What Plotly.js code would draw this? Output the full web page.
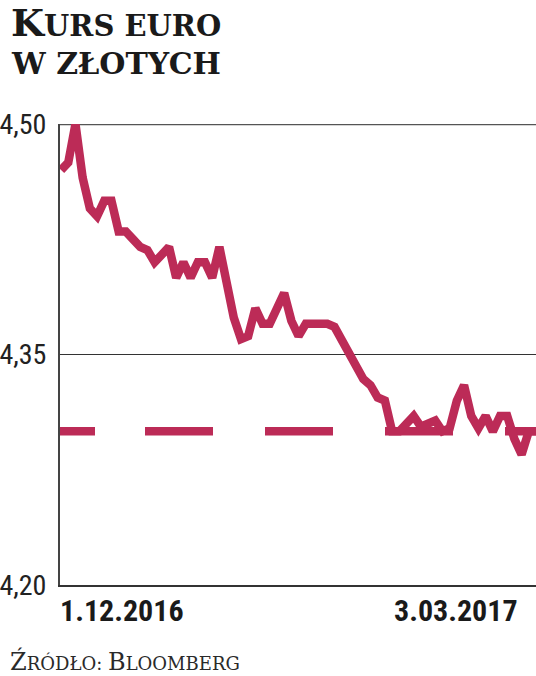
<!DOCTYPE html>
<html>
<head>
<meta charset="utf-8">
<script src="https://cdn.plot.ly/plotly-3.0.1.min.js"></script>
<style>html,body{margin:0;padding:0;background:#fff;}#chart{width:536px;height:676px;}</style>
</head>
<body>
<div id="chart"></div>
<script>
// EUR/PLN daily fixing, 1.12.2016 – 3.03.2017
const dayIndex = [];
const rate = [4.47,4.475,4.50,4.465,4.445,4.44,4.45,4.45,4.43,4.43,4.425,4.42,4.418,4.41,4.415,4.42,4.40,4.41,4.40,4.41,4.41,4.40,4.42,4.398,4.374,4.36,4.362,4.38,4.37,4.37,4.38,4.39,4.372,4.362,4.37,4.37,4.37,4.37,4.368,4.36,4.352,4.343,4.334,4.33,4.322,4.32,4.30,4.30,4.305,4.31,4.303,4.305,4.307,4.30,4.302,4.32,4.33,4.31,4.302,4.31,4.30,4.31,4.31,4.295,4.285,4.30,4.30];
for (let i = 0; i < rate.length; i++) dayIndex.push(i);
const refLevel = [4.30, 4.30];
const refX = [-0.15, rate.length - 1];
const yTickVals = [4.20, 4.35, 4.50];
const yTickText = ['4,20', '4,35', '4,50'];
const xLabels = ['1.12.2016', '3.03.2017'];

const W = 536, H = 676, L = 60, R = 0, T = 124, B = 91;
const pw = W - L - R, ph = H - T - B;
const px = x => (x - L) / pw;
const py = y => (H - B - y) / ph;

const red = '#bc2b57';
const condFont = 'Roboto Condensed, DejaVu Sans Condensed, Liberation Sans Narrow, Roboto, sans-serif';
const slab = 'DejaVu Serif, Liberation Serif, serif';

const traces = [
  {x: refX, y: refLevel, mode: 'lines', cliponaxis: false,
   line: {color: red, width: 8.5, dash: '35px,50px,68px,52px,68px,52px,68px,52px,68px,52px'}, hoverinfo: 'skip'},
  {x: dayIndex, y: rate, mode: 'lines', cliponaxis: false,
   line: {color: red, width: 8.5, shape: 'linear'}, hoverinfo: 'skip'}
];

const layout = {
  width: W, height: H,
  margin: {l: L, r: R, t: T, b: B, pad: 0},
  paper_bgcolor: '#fff', plot_bgcolor: '#fff',
  showlegend: false,
  xaxis: {range: [-0.15, rate.length - 1], showgrid: false, zeroline: false,
          showticklabels: false, ticks: '', showline: true, linecolor: '#333', linewidth: 2},
  yaxis: {range: [4.20, 4.50], tickvals: yTickVals, ticktext: yTickText,
          showgrid: true, gridcolor: '#333', gridwidth: 1.5, zeroline: false,
          showline: true, linecolor: '#444', linewidth: 2, ticks: '', ticklabelstandoff: 6,
          tickfont: {family: condFont, size: 28, color: '#222'}},
  shapes: [
    {type: 'line', xref: 'paper', yref: 'y', x0: 0, x1: 1, y0: yTickVals[2], y1: yTickVals[2],
     line: {color: '#555', width: 2.5}, layer: 'below'}
  ],
  annotations: [
    {xref: 'paper', yref: 'paper', x: px(9), y: py(47), xanchor: 'left', yanchor: 'bottom',
     showarrow: false, align: 'left',
     text: '<b><span style="font-size:38px">K</span>URS EURO</b>',
     font: {family: slab, size: 29, color: '#1a1a1a'}},
    {xref: 'paper', yref: 'paper', x: px(9), y: py(83), xanchor: 'left', yanchor: 'bottom',
     showarrow: false, align: 'left',
     text: '<b>W ZŁOTYCH</b>',
     font: {family: slab, size: 30, color: '#1a1a1a'}},
    {xref: 'x', yref: 'paper', x: dayIndex[0], xshift: -3, y: py(610), xanchor: 'left', yanchor: 'middle',
     showarrow: false, text: '<b>' + xLabels[0] + '</b>',
     font: {family: condFont, size: 30, color: '#1a1a1a'}},
    {xref: 'paper', yref: 'paper', x: px(520), y: py(610), xanchor: 'right', yanchor: 'middle',
     showarrow: false, text: '<b>' + xLabels[1] + '</b>',
     font: {family: condFont, size: 30, color: '#1a1a1a'}},
    {xref: 'paper', yref: 'paper', x: px(8), y: py(661), xanchor: 'left', yanchor: 'middle',
     showarrow: false, align: 'left',
     text: '<span style="font-size:24px">Ź</span>RÓDŁO: <span style="font-size:24px">B</span>LOOMBERG',
     font: {family: slab, size: 18, color: '#2a2a2a'}}
  ]
};

Plotly.newPlot('chart', traces, layout, {staticPlot: true, displayModeBar: false});
</script>
</body>
</html>
